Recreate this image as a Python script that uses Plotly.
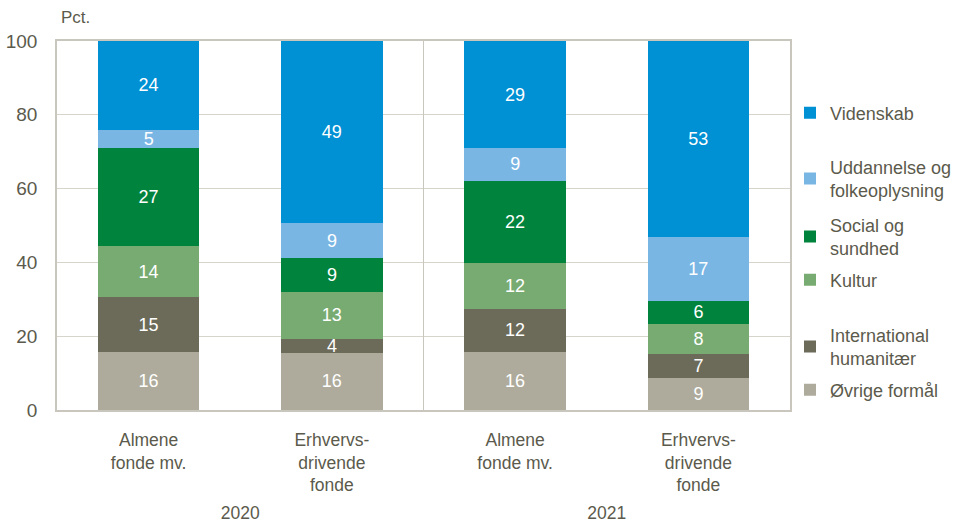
import plotly.graph_objects as go

years = ["2020", "2020", "2021", "2021"]
groups = ["Almene<br>fonde mv.",
          "Erhvervs-<br>drivende<br>fonde<br><span style='font-size:2px'>&nbsp;</span>",
          "Almene<br>fonde mv.",
          "Erhvervs-<br>drivende<br>fonde<br><span style='font-size:2px'>&nbsp;</span>"]

series_names = ["Øvrige formål", "International<br>humanitær", "Kultur", "Social og<br>sundhed",
                "Uddannelse og<br>folkeoplysning", "Videnskab"]
oevrige = [15.7, 15.5, 15.7, 8.6]
international = [14.9, 3.8, 11.7, 6.6]
kultur = [13.8, 12.7, 12.4, 8.2]
social = [26.6, 9.2, 22.3, 6.2]
uddannelse = [4.9, 9.4, 8.9, 17.3]
videnskab = [24.1, 49.4, 29.0, 53.1]
series_values = [oevrige, international, kultur, social, uddannelse, videnskab]
colors = ["#aeab9c", "#6c6b5a", "#78ab71", "#00843d", "#7ab6e4", "#0090d4"]
# legend item vertical centres (pixel rows of the page)
legend_centres_px = [390, 346.5, 280, 236.5, 178.5, 113]

FONT = "Liberation Sans, Arial, sans-serif"
TXT = "#5b5a4c"
L, R, T, B = 57, 171, 41, 113
W, H = 962, 523
plot_h = H - T - B

fig = go.Figure()
layout_legends = {}
for i, (name, vals, col, cy) in enumerate(zip(series_names, series_values, colors, legend_centres_px)):
    lg = "legend" if i == 0 else f"legend{i+1}"
    fig.add_trace(go.Bar(
        x=[years, groups], y=vals, name=name, marker_color=col,
        marker_line_width=0,
        texttemplate="%{y:.0f}", textposition="inside", insidetextanchor="middle",
        textangle=0,
        textfont=dict(color="white", size=18, family=FONT),
        width=0.555, legend=lg,
    ))
    layout_legends[lg] = dict(xref="container", yref="container", x=790 / W, xanchor="left",
                              y=1 - cy / H, yanchor="middle",
                              font=dict(size=18, color=TXT, family=FONT), itemwidth=30,
                              bgcolor="rgba(0,0,0,0)", borderwidth=0)

fig.update_layout(
    barmode="stack",
    width=W, height=H,
    margin=dict(l=L, r=R, t=T, b=B),
    plot_bgcolor="white", paper_bgcolor="white",
    font=dict(family=FONT, size=18, color=TXT),
    uniformtext=dict(minsize=18, mode="show"),
    showlegend=True,
    annotations=[dict(text="Pct.", xref="paper", yref="paper", x=0.0, y=(H - B - 18) / plot_h,
                      xanchor="left", yanchor="middle", xshift=2, showarrow=False,
                      font=dict(size=17, color=TXT))],
    shapes=[dict(type="line", xref="paper", yref="paper", x0=0.5, x1=0.5, y0=0, y1=1,
                 line=dict(color="#c9c7bd", width=1))],
    **layout_legends,
)
fig.update_xaxes(showline=True, mirror=True, linecolor="#c9c7bd", linewidth=1.5,
                 showdividers=False, tickfont=dict(size=17.5, color=TXT), ticks="",
                 ticklabelstandoff=13, automargin=False)
fig.update_yaxes(range=[0, 100], dtick=20, showgrid=True, gridcolor="#d6d4cb", gridwidth=1,
                 showline=True, mirror=True, linecolor="#c9c7bd", linewidth=1.5,
                 tickfont=dict(size=19, color=TXT), ticks="", zeroline=False,
                 ticklabelstandoff=14, automargin=False)

fig.write_html("out.html", config={"displayModeBar": False},
               post_script="document.body.style.margin='0px';")
